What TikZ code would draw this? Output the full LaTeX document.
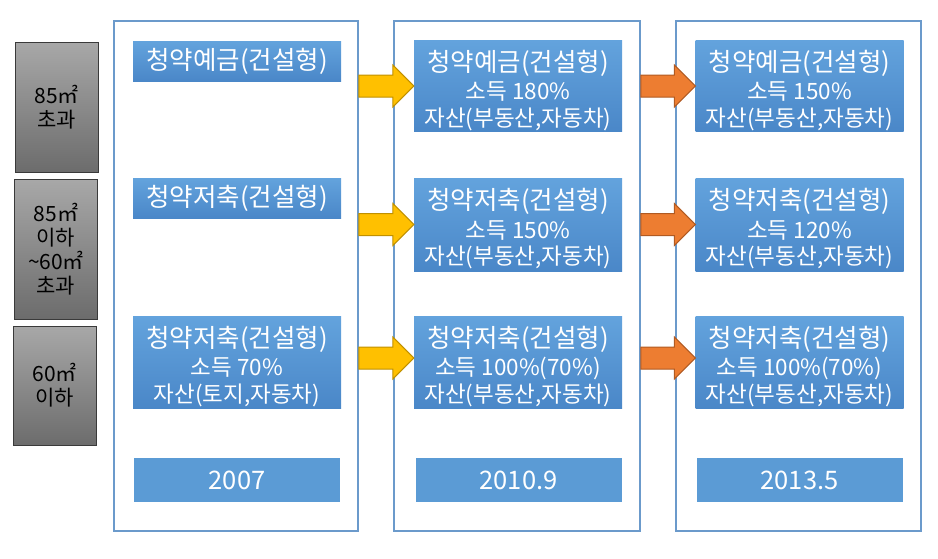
\documentclass[tikz,border=0pt]{standalone}
\usepackage{fontspec}
\setmainfont{Noto Sans CJK KR}
\usetikzlibrary{calc}

\definecolor{boxblue}{HTML}{5B9BD5}
\definecolor{boxbluetop}{HTML}{63A3DD}
\definecolor{boxbluebot}{HTML}{4A87C8}
\definecolor{frameblue}{HTML}{6B9ACB}
\definecolor{greytop}{HTML}{A8A8A8}
\definecolor{greybot}{HTML}{6C6C6C}
\definecolor{greyline}{HTML}{3A3A3A}
\definecolor{arrowyellow}{HTML}{FFC000}
\definecolor{arrowyellowdk}{HTML}{C09000}
\definecolor{arroworange}{HTML}{ED7D31}
\definecolor{arroworangedk}{HTML}{B05A22}

\newcommand{\headfont}{\fontsize{25.5}{27}\selectfont}
\newcommand{\linefont}{\fontsize{22.5}{26.5}\selectfont}
\newcommand{\areafont}{\fontsize{21}{24}\selectfont}
% first line of a three-line plan box (strut pushes the block down a bit)
\newcommand{\planhead}[1]{{\headfont\rule{0pt}{30pt}#1}\\[2pt]}

% block arrow from a column frame to a plan box, #4 = vertical offset
\newcommand{\blockarrow}[4]{%
  \draw[#1] ($(#2.east |- #3.west)+(0,#4-11)$) -- ($(#3.west)+(-21,#4-11)$)
    -- ($(#3.west)+(-21,#4-21)$) -- ($(#3.west)+(0,#4)$) -- ($(#3.west)+(-21,#4+21)$)
    -- ($(#3.west)+(-21,#4+11)$) -- ($(#2.east |- #3.west)+(0,#4+11)$) -- cycle;}

\begin{document}
\begin{tikzpicture}[x=1pt, y=-1pt,
    column/.style={draw=frameblue, line width=1.6pt, inner sep=0pt},
    area/.style={draw=greyline, line width=0.8pt, top color=greytop, bottom color=greybot,
      minimum width=83pt, text=black, align=center, font=\areafont},
    plan/.style={top color=boxbluetop, bottom color=boxbluebot, text=white,
      minimum width=208pt, align=center, font=\linefont, inner sep=1pt},
    year/.style={fill=boxblue, text=white, minimum width=206pt, minimum height=44pt,
      font=\fontsize{25.5}{27}\selectfont},
    moveY/.style={fill=arrowyellow, draw=arrowyellowdk, line width=1pt, line join=miter},
    moveO/.style={fill=arroworange, draw=arroworangedk, line width=1pt, line join=miter}]
  \useasboundingbox (0,0) rectangle (938,558);

  % --- Size classes (left) ---
  \node[area, minimum height=130pt] (big)   at (56.5,107)  {85㎡\\초과};
  \node[area, minimum height=140pt] (mid)   at (56,249)    {85㎡\\이하\\\textasciitilde60㎡\\초과};
  \node[area, minimum height=119pt] (small) at (54.5,385.5) {60㎡\\이하};

  % --- Column frames ---
  \node[column, minimum width=244pt, minimum height=510pt] (col1) at (236,276) {};
  \node[column, minimum width=246pt, minimum height=510pt] (col2) at (517,276) {};
  \node[column, minimum width=245pt, minimum height=510pt] (col3) at (798.5,276) {};

  % --- 2007 ---
  \node[plan, minimum height=40pt] (p11) at (237,61)  {{\headfont 청약예금(건설형)}};
  \node[plan, minimum height=40pt] (p12) at (237,198) {{\headfont 청약저축(건설형)}};
  \node[plan, minimum height=92pt] (p13) at (237,362)
    {\planhead{청약저축(건설형)}소득 70\%\\자산(토지,자동차)};
  \node[year] (y1) at (237,480) {2007};

  % --- 2010.9 ---
  \node[plan, minimum height=90pt] (p21) at (518,86)
    {\planhead{청약예금(건설형)}소득 180\%\\자산(부동산,자동차)};
  \node[plan, minimum height=93pt] (p22) at (518,224.5)
    {\planhead{청약저축(건설형)}소득 150\%\\자산(부동산,자동차)};
  \node[plan, minimum height=92pt] (p23) at (518,362)
    {\planhead{청약저축(건설형)}소득 100\%(70\%)\\자산(부동산,자동차)};
  \node[year] (y2) at (518.5,480) {2010.9};

  % --- 2013.5 ---
  \node[plan, minimum height=90pt] (p31) at (799.5,86)
    {\planhead{청약예금(건설형)}소득 150\%\\자산(부동산,자동차)};
  \node[plan, minimum height=93pt] (p32) at (799.5,224.5)
    {\planhead{청약저축(건설형)}소득 120\%\\자산(부동산,자동차)};
  \node[plan, minimum height=92pt] (p33) at (799.5,362)
    {\planhead{청약저축(건설형)}소득 100\%(70\%)\\자산(부동산,자동차)};
  \node[year] (y3) at (799.5,480) {2013.5};

  % --- Arrows ---
  \foreach \r/\dy in {1/0, 2/0, 3/-4} {
    \blockarrow{moveY}{col1}{p2\r}{\dy}
    \blockarrow{moveO}{col2}{p3\r}{\dy}
  }
\end{tikzpicture}
\end{document}
